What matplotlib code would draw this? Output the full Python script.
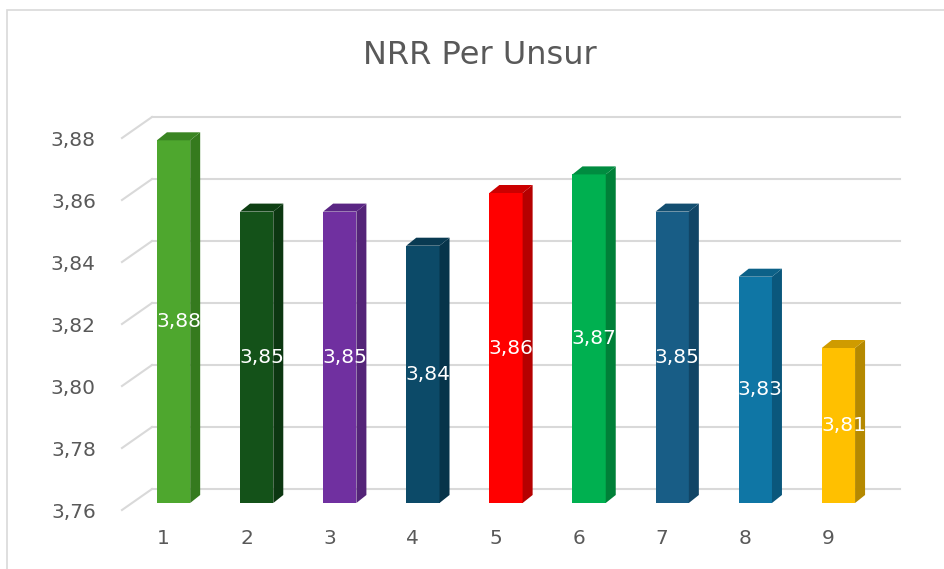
import numpy as np
import matplotlib.pyplot as plt
from matplotlib.patches import Polygon, Rectangle
from matplotlib.transforms import ScaledTranslation

# data
categories = ["1", "2", "3", "4", "5", "6", "7", "8", "9"]
values = [3.877, 3.854, 3.854, 3.843, 3.860, 3.866, 3.854, 3.833, 3.810]
yticks = [3.76, 3.78, 3.80, 3.82, 3.84, 3.86, 3.88]
front_colors = ["#4EA72E", "#145219", "#7030A0", "#0C4A68", "#FF0000",
                "#00B050", "#185D86", "#0F76A5", "#FFC000"]
side_colors = ["#357A1E", "#0C3711", "#542478", "#07344A", "#B50000",
               "#008038", "#114566", "#0A577C", "#B58900"]
top_colors = ["#3A8522", "#0E3F13", "#5A2684", "#093A52", "#CC0000",
              "#008C40", "#134E70", "#0C6188", "#CF9B00"]

W, H, DPI = 945, 569, 100
ymin, ymax = 3.76, 3.88
text_col = "#595959"
grid_col = "#D9D9D9"

fig = plt.figure(figsize=(W / DPI, H / DPI), dpi=DPI)
fig.patch.set_facecolor("white")

# chart border
fig.add_artist(Rectangle((7 / W, -0.05), 1.1, 1 - 10 / H + 0.05,
                         transform=fig.transFigure, fill=False,
                         edgecolor=grid_col, linewidth=1.2))

ax_l, ax_b, ax_w, ax_h = 132, 66, 748, 372
ax = fig.add_axes([ax_l / W, ax_b / H, ax_w / W, ax_h / H])
ax.set_xlim(0.5, 9.5)
ax.set_ylim(ymin, ymax)
for s in ax.spines.values():
    s.set_visible(False)

# pixel -> data units
px_x = 9.0 / ax_w
px_y = (ymax - ymin) / ax_h

# back wall gridlines + floor diagonals
for t in yticks:
    ax.plot([0.5 + 20 * px_x, 9.5 + 20 * px_x], [t + 14 * px_y] * 2,
            color=grid_col, lw=1.5, clip_on=False, zorder=0)
    ax.plot([0.5 - 10 * px_x, 0.5 + 20 * px_x], [t - 7 * px_y, t + 14 * px_y],
            color=grid_col, lw=1.5, clip_on=False, zorder=0)

x = np.arange(1, len(values) + 1)
bw = 0.4
dx, dy = 10 * px_x, 8 * px_y
heights = np.array(values) - ymin
ax.bar(x, heights, bottom=ymin, width=bw, color=front_colors, zorder=3)

for xi, v, sc, tc in zip(x, values, side_colors, top_colors):
    xl, xr = xi - bw / 2, xi + bw / 2
    ax.add_patch(Polygon([(xr, ymin), (xr + dx, ymin + dy), (xr + dx, v + dy), (xr, v)],
                         closed=True, facecolor=sc, edgecolor="none", zorder=3,
                         clip_on=False))
    ax.add_patch(Polygon([(xl, v), (xl + dx, v + dy), (xr + dx, v + dy), (xr, v)],
                         closed=True, facecolor=tc, edgecolor="none", zorder=3,
                         clip_on=False))
    ax.text(xi + 5 * px_x, ymin + (v - ymin) / 2, f"{v:.2f}".replace(".", ","),
            ha="center", va="center", color="white", fontsize=14.5, zorder=5)

# ticks
ax.set_yticks(yticks)
ax.set_yticklabels([f"{t:.2f}".replace(".", ",") for t in yticks])
ax.set_xticks(x)
ax.set_xticklabels(categories)
ax.tick_params(axis="y", length=0, pad=26, labelsize=14.5, labelcolor=text_col)
ax.tick_params(axis="x", length=0, pad=14, labelsize=14.5, labelcolor=text_col)
for lab in ax.get_yticklabels():
    lab.set_transform(lab.get_transform() + ScaledTranslation(0, -7 / DPI, fig.dpi_scale_trans))
for lab in ax.get_xticklabels():
    lab.set_transform(lab.get_transform() + ScaledTranslation(-10 / DPI, -7 / DPI, fig.dpi_scale_trans))

fig.text(480 / W, 1 - 55 / H, "NRR Per Unsur", ha="center", va="center",
         fontsize=23, color=text_col)

fig.savefig("out.png", dpi=DPI)
